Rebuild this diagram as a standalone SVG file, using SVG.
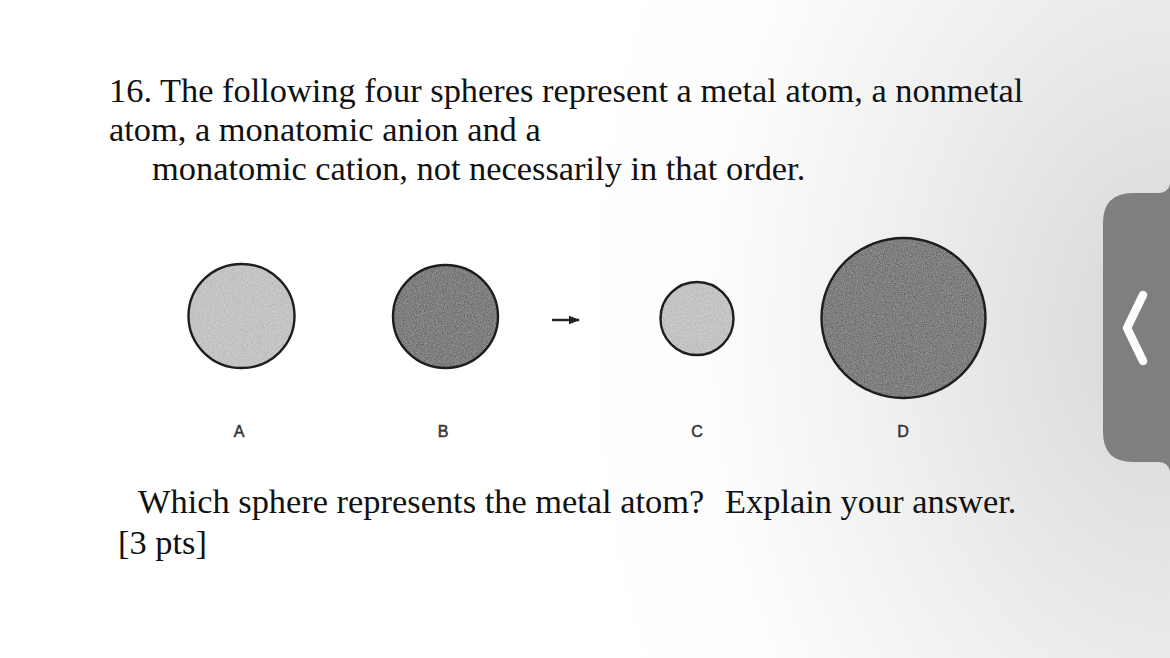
<svg xmlns="http://www.w3.org/2000/svg" width="1170" height="658" viewBox="0 0 1170 658">
<style>
.q{font-family:"Liberation Serif","Times New Roman",serif;font-size:34.4px;fill:#111;}
.lbl{font-family:"Liberation Sans",Arial,sans-serif;font-size:16px;fill:#333;stroke:#333;stroke-width:0.5;text-anchor:middle;}
.ring{fill:none;stroke:#1e1e1e;stroke-width:2.4;}
.light{fill:#c6c6c6;}
.dark{fill:#666666;}
</style>
<defs>
<radialGradient id="bg" gradientUnits="userSpaceOnUse" cx="1170" cy="330" r="620" gradientTransform="translate(1170 330) scale(1 1.4) translate(-1170 -330)">
<stop offset="0" stop-color="#d6d6d6"/>
<stop offset="0.2" stop-color="#e1e1e1"/>
<stop offset="0.45" stop-color="#efefef"/>
<stop offset="0.75" stop-color="#fdfdfd"/>
<stop offset="1" stop-color="#ffffff"/>
</radialGradient>
<filter id="grain" x="0" y="0" width="1" height="1">
<feTurbulence type="fractalNoise" baseFrequency="0.9" numOctaves="2" seed="4" result="n"/>
<feColorMatrix in="n" type="matrix" values="1.4 0 0 0 -0.2  1.4 0 0 0 -0.2  1.4 0 0 0 -0.2  0 0 0 0 0.22" result="g"/>
<feComposite in="g" in2="SourceGraphic" operator="in" result="gc"/>
<feMerge><feMergeNode in="SourceGraphic"/><feMergeNode in="gc"/></feMerge>
</filter>
<marker id="ah" markerWidth="12" markerHeight="10" refX="10" refY="5" orient="auto" markerUnits="userSpaceOnUse">
<path d="M0,0.8 L11,5 L0,9.2 Z" fill="#222"/>
</marker>
</defs>

<rect width="1170" height="658" fill="url(#bg)"/>

<g id="question-text">
<text class="q" x="109" y="102">16. The following four spheres represent a metal atom, a nonmetal</text>
<text class="q" x="109" y="141">atom, a monatomic anion and a</text>
<text class="q" x="152" y="180">monatomic cation, not necessarily in that order.</text>
<text class="q" y="513"><tspan x="138">Which sphere represents the metal atom?</tspan><tspan x="725">Explain your answer.</tspan></text>
<text class="q" x="118" y="554">[3 pts]</text>
</g>

<g id="sphere-A">
<ellipse class="light" cx="241.5" cy="316" rx="53" ry="52" filter="url(#grain)"/>
<ellipse class="ring" cx="241.5" cy="316" rx="53" ry="52"/>
<text class="lbl" x="239" y="437">A</text>
</g>
<g id="sphere-B">
<ellipse class="dark" cx="445.5" cy="316.5" rx="52.5" ry="51.5" filter="url(#grain)"/>
<ellipse class="ring" cx="445.5" cy="316.5" rx="52.5" ry="51.5"/>
<text class="lbl" x="443" y="437">B</text>
</g>
<g id="sphere-C">
<ellipse class="light" cx="697" cy="318.5" rx="36.5" ry="36.5" filter="url(#grain)"/>
<ellipse class="ring" cx="697" cy="318.5" rx="36.5" ry="36.5"/>
<text class="lbl" x="697" y="437">C</text>
</g>
<g id="sphere-D">
<ellipse class="dark" cx="903.5" cy="318" rx="82" ry="80" filter="url(#grain)"/>
<ellipse class="ring" cx="903.5" cy="318" rx="82" ry="80"/>
<text class="lbl" x="903" y="437">D</text>
</g>

<g id="connectors">
<line x1="552" y1="320" x2="579" y2="320" stroke="#222" stroke-width="2.4" marker-end="url(#ah)"/>
</g>

<g id="side-tab">
<path d="M1170,184 Q1168,193 1158,193 L1133,193 Q1103,193 1103,223 L1103,432 Q1103,462 1133,462 L1158,462 Q1168,462 1170,471 Z" fill="#7f7f7f"/>
<path d="M1143,295 L1127,328 L1143,361" fill="none" stroke="#ffffff" stroke-width="8.5" stroke-linecap="round" stroke-linejoin="round"/>
</g>
</svg>
